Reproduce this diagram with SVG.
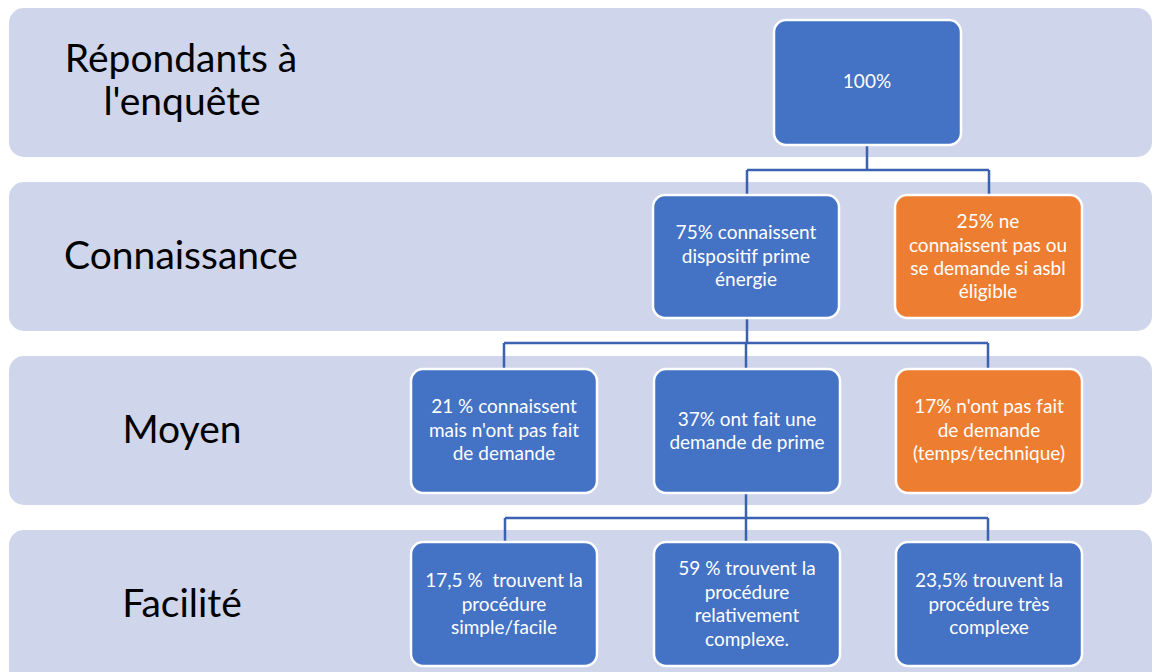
<svg xmlns="http://www.w3.org/2000/svg" width="1153" height="672" viewBox="0 0 1153 672">
  <style>
    .band { fill: #CFD5EA; }
    .lvl { font-family: Lato, "Liberation Sans", sans-serif; font-size: 39px; fill: #000; text-anchor: middle; }
    .node rect { stroke: #FFFFFF; stroke-width: 2.5; }
    .blue rect { fill: #4472C4; }
    .orange rect { fill: #ED7D31; }
    .node text { font-family: Lato, "Liberation Sans", sans-serif; font-size: 19px; fill: #FFFFFF; text-anchor: middle; white-space: pre; }
    .conn path { fill: none; stroke: #3A62AE; stroke-width: 2.5; }
  </style>

  <!-- level bands -->
  <g id="bands">
    <rect class="band" x="9" y="8" width="1143" height="149" rx="15"/>
    <rect class="band" x="9" y="182" width="1143" height="149" rx="15"/>
    <rect class="band" x="9" y="356" width="1143" height="149" rx="15"/>
    <rect class="band" x="9" y="530" width="1143" height="160" rx="15"/>
  </g>

  <!-- level labels -->
  <g id="level-labels">
    <text class="lvl" x="181" y="72">Répondants à</text>
    <text class="lvl" x="182" y="115">l'enquête</text>
    <text class="lvl" x="181" y="269">Connaissance</text>
    <text class="lvl" x="182" y="443">Moyen</text>
    <text class="lvl" x="182" y="617">Facilité</text>
  </g>

  <!-- connectors -->
  <g id="connectors" class="conn">
    <path d="M867 145 V170 M747 170 H989 M747 170 V195 M989 170 V195"/>
    <path d="M747 318 V343 M504 343 H988 M504 343 V369 M746 343 V369 M988 343 V369"/>
    <path d="M746 493 V518 M505 518 H988 M505 518 V542 M746 518 V542 M988 518 V542"/>
  </g>

  <!-- nodes -->
  <g id="n-total" class="node blue">
    <rect x="774" y="20" width="187" height="125" rx="12"/>
    <text x="867" y="88">100%</text>
  </g>

  <g id="n-connaissent" class="node blue">
    <rect x="653" y="195" width="186" height="123" rx="12"/>
    <text x="746" y="239">75% connaissent</text>
    <text x="746" y="262.5">dispositif prime</text>
    <text x="746" y="286">énergie</text>
  </g>

  <g id="n-inconnu" class="node orange">
    <rect x="895" y="195" width="187" height="123" rx="12"/>
    <text x="988" y="228">25% ne</text>
    <text x="988" y="251.5">connaissent pas ou</text>
    <text x="988" y="275">se demande si asbl</text>
    <text x="988" y="298">éligible</text>
  </g>

  <g id="n-sans-demande" class="node blue">
    <rect x="411" y="369" width="186" height="124" rx="12"/>
    <text x="504" y="413">21 % connaissent</text>
    <text x="504" y="436.5">mais n'ont pas fait</text>
    <text x="504" y="460">de demande</text>
  </g>

  <g id="n-demande" class="node blue">
    <rect x="654" y="369" width="186" height="124" rx="12"/>
    <text x="747" y="425.5">37% ont fait une</text>
    <text x="747" y="449">demande de prime</text>
  </g>

  <g id="n-temps" class="node orange">
    <rect x="896" y="369" width="186" height="124" rx="12"/>
    <text x="989" y="413">17% n'ont pas fait</text>
    <text x="989" y="436.5">de demande</text>
    <text x="989" y="460">(temps/technique)</text>
  </g>

  <g id="n-simple" class="node blue">
    <rect x="411" y="542" width="186" height="124" rx="12"/>
    <text x="504" y="587">17,5 %  trouvent la</text>
    <text x="504" y="610.5">procédure</text>
    <text x="504" y="634">simple/facile</text>
  </g>

  <g id="n-relatif" class="node blue">
    <rect x="654" y="542" width="186" height="124" rx="12"/>
    <text x="747" y="575">59 % trouvent la</text>
    <text x="747" y="598.5">procédure</text>
    <text x="747" y="622">relativement</text>
    <text x="747" y="645.5">complexe.</text>
  </g>

  <g id="n-complexe" class="node blue">
    <rect x="896" y="542" width="186" height="124" rx="12"/>
    <text x="989" y="587">23,5% trouvent la</text>
    <text x="989" y="610.5">procédure très</text>
    <text x="989" y="634">complexe</text>
  </g>
</svg>
